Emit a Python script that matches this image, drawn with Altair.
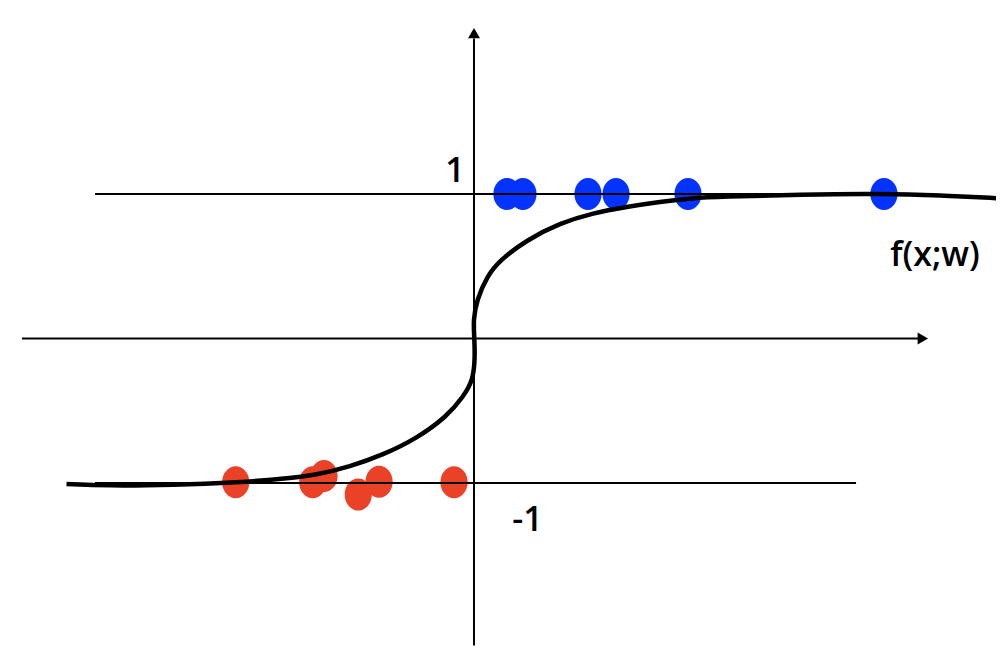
import altair as alt
import pandas as pd

# Diagram coordinates (1 unit = distance from axis to the y=+1 line)
curve_x = [-2.82, -2.54, -2.09, -1.62, -1.32, -1.09, -0.86, -0.63, -0.397, -0.189, -0.074,
           -0.005, 0.007, 0.002, -0.005, 0.019, 0.088, 0.18, 0.365, 0.595,
           0.824, 1.057, 1.287, 1.516, 1.702, 2.256, 2.837, 3.225, 3.64]
curve_y = [-1.007, -1.019, -1.014, -0.995, -0.972, -0.945, -0.887, -0.806, -0.692, -0.541, -0.403,
           -0.287, -0.126, 0.012, 0.128, 0.266, 0.428, 0.543, 0.682, 0.799,
           0.869, 0.912, 0.947, 0.972, 0.981, 0.997, 1.003, 0.990, 0.970]

pos_x = [0.228, 0.339, 0.789, 0.983, 1.481, 2.837]
pos_y = [1.0, 1.0, 1.0, 1.0, 1.0, 1.0]
neg_x = [-1.649, -1.116, -1.038, -0.801, -0.657, -0.138]
neg_y = [-0.995, -0.995, -0.952, -1.080, -0.991, -0.995]

level_y = [1.0, -1.0]
level_x1 = [-2.623, -2.623]
level_x2 = [2.644, 2.644]

labels = ["1", "-1", "f(x;w)"]
label_x = [-0.131, 0.37, 3.19]
label_y = [1.152, -1.263, 0.571]

X = alt.Scale(domain=[-3.2249, 3.6125], nice=False, zero=False)
Y = alt.Scale(domain=[-2.2249, 2.2872], nice=False, zero=False)

def xe(f, **kw):
    return alt.X(f, type="quantitative", scale=X, axis=None, **kw)

def ye(f, **kw):
    return alt.Y(f, type="quantitative", scale=Y, axis=None, **kw)

ellipse = "M0,-1A0.85,1,0,1,1,0,1A0.85,1,0,1,1,0,-1Z"

pos = alt.Chart(pd.DataFrame({"x": pos_x, "y": pos_y})).mark_point(
    shape=ellipse, size=1024, filled=True, opacity=1, color="#0433FF", strokeWidth=0
).encode(x=xe("x"), y=ye("y"))

neg = alt.Chart(pd.DataFrame({"x": neg_x, "y": neg_y})).mark_point(
    shape=ellipse, size=1024, filled=True, opacity=1, color="#EB4127", strokeWidth=0
).encode(x=xe("x"), y=ye("y"))

levels = alt.Chart(pd.DataFrame({"y": level_y, "x1": level_x1, "x2": level_x2})).mark_rule(
    color="black", strokeWidth=2
).encode(x=xe("x1"), x2="x2", y=ye("y"))

hx = alt.Chart(pd.DataFrame({"x1": [-3.128], "x2": [3.073], "y": [0.0]})).mark_rule(
    color="black", strokeWidth=2
).encode(x=xe("x1"), x2="x2", y=ye("y"))

vy = alt.Chart(pd.DataFrame({"y1": [-2.125], "y2": [2.076], "x": [0.0]})).mark_rule(
    color="black", strokeWidth=2
).encode(y=ye("y1"), y2="y2", x=xe("x"))

arr_r = alt.Chart(pd.DataFrame({"x": [3.106], "y": [0.0]})).mark_point(
    shape="triangle-right", size=144, filled=True, opacity=1, color="black", strokeWidth=0
).encode(x=xe("x"), y=ye("y"))

arr_u = alt.Chart(pd.DataFrame({"x": [0.0], "y": [2.113]})).mark_point(
    shape="triangle-up", size=144, filled=True, opacity=1, color="black", strokeWidth=0
).encode(x=xe("x"), y=ye("y"))

curve = alt.Chart(pd.DataFrame({"x": curve_x, "y": curve_y, "i": list(range(len(curve_x)))})).mark_line(
    color="black", strokeWidth=4.5, interpolate="basis", clip=False
).encode(x=xe("x"), y=ye("y"), order="i:Q")

text = alt.Chart(pd.DataFrame({"t": labels, "x": label_x, "y": label_y})).mark_text(
    font="Open Sans", fontSize=34, fontWeight=600, color="black", align="center", baseline="middle"
).encode(x=xe("x"), y=ye("y"), text="t:N")

chart = alt.layer(pos, neg, hx, vy, arr_r, arr_u, levels, curve, text).properties(
    width=988, height=652, padding=0, autosize=alt.AutoSizeParams(type="none")
).configure_view(stroke=None, strokeWidth=0)

chart.save("out.html", embed_options={"renderer": "svg", "actions": False})
